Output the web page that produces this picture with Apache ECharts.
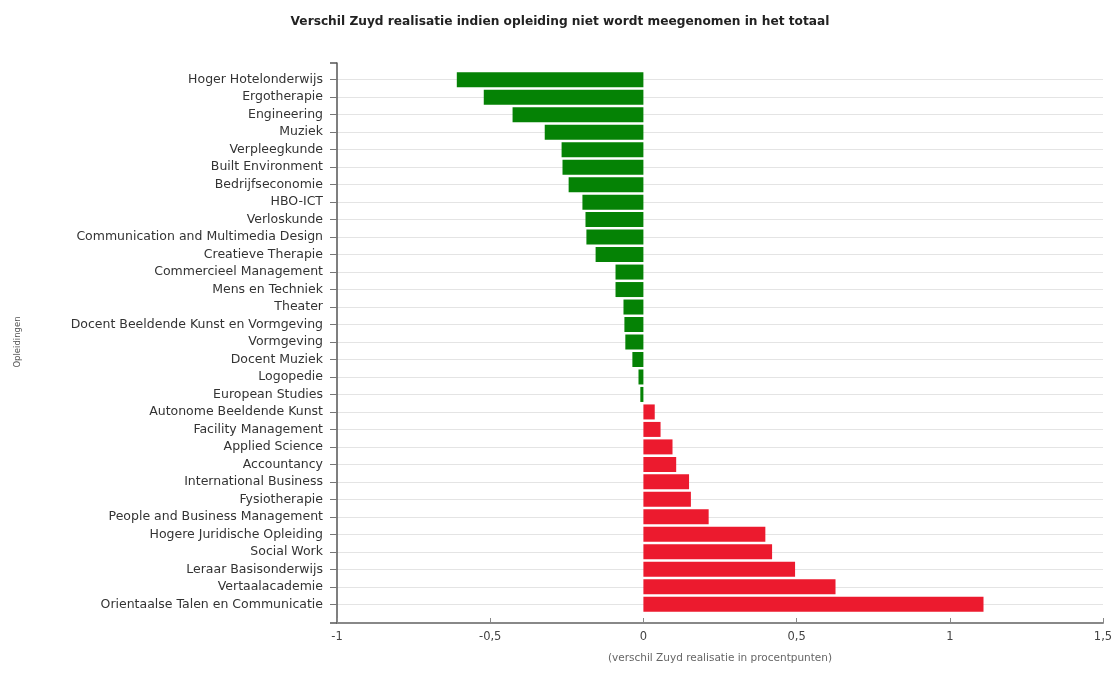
<!DOCTYPE html>
<html><head><meta charset="utf-8">
<script src="https://cdn.jsdelivr.net/npm/echarts@6/dist/echarts.min.js"></script>
<style>html,body{margin:0;padding:0;background:#fff}#c{width:1119px;height:675px}</style>
</head><body><div id="c"></div>
<script>
const categories = [
  "Hoger Hotelonderwijs","Ergotherapie","Engineering","Muziek","Verpleegkunde",
  "Built Environment","Bedrijfseconomie","HBO-ICT","Verloskunde",
  "Communication and Multimedia Design","Creatieve Therapie","Commercieel Management",
  "Mens en Techniek","Theater","Docent Beeldende Kunst en Vormgeving","Vormgeving",
  "Docent Muziek","Logopedie","European Studies","Autonome Beeldende Kunst",
  "Facility Management","Applied Science","Accountancy","International Business",
  "Fysiotherapie","People and Business Management","Hogere Juridische Opleiding",
  "Social Work","Leraar Basisonderwijs","Vertaalacademie","Orientaalse Talen en Communicatie"
];
const values = [
  -0.609,-0.521,-0.427,-0.322,-0.267,
  -0.264,-0.244,-0.199,-0.189,
  -0.186,-0.156,-0.091,
  -0.091,-0.065,-0.062,-0.059,
  -0.036,-0.016,-0.010,0.037,
  0.056,0.095,0.107,0.149,
  0.155,0.213,0.398,
  0.420,0.495,0.627,1.110
];
const xTicks = {"-1":"-1","-0.5":"-0,5","0":"0","0.5":"0,5","1":"1","1.5":"1,5"};
const titleText = "Verschil Zuyd realisatie indien opleiding niet wordt meegenomen in het totaal";
const xName = "(verschil Zuyd realisatie in procentpunten)";
const yName = "Opleidingen";

const F = 'DejaVu Sans';
const chart = echarts.init(document.getElementById('c'));
chart.setOption({
  animation:false,
  backgroundColor:'#fff',
  title:{text:titleText,left:555,top:11,textAlign:'center',
    textStyle:{fontFamily:F,fontSize:12.2,fontWeight:'bold',color:'#222'}},
  grid:[
    {left:337,right:16,top:71,bottom:62,containLabel:false},
    {left:337,right:16,top:63,bottom:52,containLabel:false}
  ],
  xAxis:[
    {type:'value',gridIndex:0,min:-1,max:1.5,interval:0.5,offset:10,
    name:xName,nameLocation:'middle',nameGap:30,
    nameTextStyle:{fontFamily:F,fontSize:10.5,color:'#666'},
    axisLine:{show:true,lineStyle:{color:'#888',width:2}},
    axisTick:{show:true,inside:true,length:5,lineStyle:{color:'#888'}},
    axisLabel:{formatter:v=>xTicks[String(v)]??String(v),fontFamily:F,fontSize:11.5,color:'#444',margin:8},
    splitLine:{show:false}},
    {type:'value',gridIndex:1,min:0,max:1,show:false}
  ],
  yAxis:[
    {type:'category',gridIndex:0,data:categories,inverse:true,
    name:yName,nameLocation:'middle',nameGap:315,nameRotate:90,
    nameTextStyle:{fontFamily:F,fontSize:8.5,color:'#555'},
    axisLine:{show:false,onZero:false},
    axisTick:{show:true,alignWithLabel:true,length:7,lineStyle:{color:'#777'}},
    axisLabel:{fontFamily:F,fontSize:12.5,color:'#333',margin:14},
    splitLine:{show:true,alignWithLabel:true,lineStyle:{color:'#e4e4e4',width:1}}},
    {type:'value',gridIndex:1,min:0,max:1,interval:1,
    axisLine:{show:true,onZero:false,lineStyle:{color:'#555',width:1.5}},
    axisTick:{show:true,length:7,lineStyle:{color:'#555',width:1.5}},
    axisLabel:{show:false},splitLine:{show:false}}
  ],
  series:[{type:'bar',xAxisIndex:0,yAxisIndex:0,
    data:values.map(v=>({value:v,itemStyle:{color:v<0?'#058205':'#ec1a2e'}})),
    barWidth:15}]
});
</script></body></html>
